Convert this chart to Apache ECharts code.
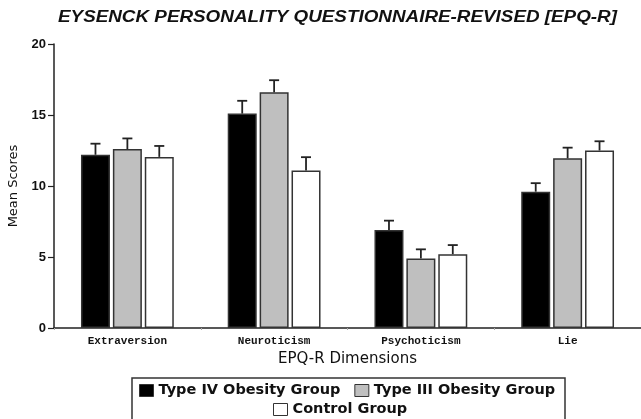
<!DOCTYPE html>
<html>
<head>
<meta charset="utf-8">
<script src="https://cdn.jsdelivr.net/npm/echarts@6/dist/echarts.min.js"></script>
<style>
  html, body { margin: 0; padding: 0; background: #fff; }
  #chart { width: 641px; height: 419px; }
</style>
</head>
<body>
<div id="chart"></div>
<script>
// EPQ-R dimension scores by group (means and standard errors)
const dimensions = ['Extraversion', 'Neuroticism', 'Psychoticism', 'Lie'];
const groupNames = ['Type IV Obesity Group', 'Type III Obesity Group', 'Control Group'];
const typeIVMeans = [12.2, 15.1, 6.9, 9.6];
const typeIIIMeans = [12.6, 16.6, 4.9, 11.95];
const controlMeans = [12.05, 11.1, 5.2, 12.5];
const typeIVErr = [0.78, 0.9, 0.66, 0.6];
const typeIIIErr = [0.75, 0.85, 0.64, 0.75];
const controlErr = [0.77, 0.93, 0.64, 0.65];
const yTicks = [0, 5, 10, 15, 20];

const titleText = 'EYSENCK PERSONALITY QUESTIONNAIRE-REVISED [EPQ-R]';

const means = [typeIVMeans, typeIIIMeans, controlMeans];
const errs = [typeIVErr, typeIIIErr, controlErr];
const fills = ['#000000', '#bfbfbf', '#ffffff'];
const edge = '#333333';

const BAR_W = 29;
const BAR_GAP = 0.1; // fraction of bar width between neighbouring bars

// stretch the title so it spans the full heading width
const titleFont = 'italic bold 16px "Liberation Sans", Arial, sans-serif';
const ctx = document.createElement('canvas').getContext('2d');
ctx.font = titleFont;
const titleScale = 559 / ctx.measureText(titleText).width;

const chart = echarts.init(document.getElementById('chart'), null, { renderer: 'canvas' });

const barSeries = groupNames.map((name, g) => ({
  name: name,
  type: 'bar',
  data: means[g],
  barWidth: BAR_W,
  barGap: (BAR_GAP * 100) + '%',
  itemStyle: { color: fills[g], borderColor: edge, borderWidth: 1.5 },
  z: 2
}));

const errSeries = groupNames.map((name, g) => ({
  type: 'custom',
  name: name + ' SE',
  data: dimensions.map((d, i) => [i, means[g][i], means[g][i] + errs[g][i]]),
  z: 3,
  silent: true,
  renderItem: function (params, api) {
    const offset = (g - 1) * BAR_W * (1 + BAR_GAP);
    const base = api.coord([api.value(0), api.value(1)]);
    const top = api.coord([api.value(0), api.value(2)]);
    const x = base[0] + offset;
    const half = 5;
    return {
      type: 'group',
      children: [
        { type: 'line', shape: { x1: x, y1: base[1], x2: x, y2: top[1] },
          style: { stroke: '#222', lineWidth: 1.8 } },
        { type: 'line', shape: { x1: x - half, y1: top[1], x2: x + half, y2: top[1] },
          style: { stroke: '#222', lineWidth: 1.8 } }
      ]
    };
  }
}));

const legendText = {
  fontFamily: '"DejaVu Sans", sans-serif',
  fontWeight: 'bold',
  fontSize: 14.5,
  color: '#111'
};

chart.setOption({
  animation: false,
  backgroundColor: '#fff',
  graphic: [
    {
      type: 'text',
      x: 337.5, y: 18,
      scaleX: titleScale,
      style: {
        text: titleText,
        font: titleFont,
        fill: '#111',
        align: 'center',
        verticalAlign: 'middle'
      }
    },
    {
      type: 'rect',
      shape: { x: 132, y: 378, width: 433, height: 60 },
      style: { fill: 'none', stroke: '#333', lineWidth: 1.5 },
      silent: true
    }
  ],
  grid: { left: 54, right: 0, top: 44, bottom: 91, containLabel: false, outerBoundsMode: 'none' },
  legend: [
    {
      data: groupNames.slice(0, 2),
      left: 139, top: 383,
      orient: 'horizontal',
      itemWidth: 14, itemHeight: 12, itemGap: 14,
      padding: 0,
      icon: 'rect',
      itemStyle: { borderColor: edge, borderWidth: 1 },
      textStyle: legendText,
      selectedMode: false
    },
    {
      data: groupNames.slice(2),
      left: 273, top: 402,
      itemWidth: 14, itemHeight: 12,
      padding: 0,
      icon: 'rect',
      itemStyle: { borderColor: edge, borderWidth: 1 },
      textStyle: legendText,
      selectedMode: false
    }
  ],
  xAxis: {
    type: 'category',
    data: dimensions,
    name: 'EPQ-R Dimensions',
    nameLocation: 'middle',
    nameGap: 23,
    nameTextStyle: { fontFamily: '"DejaVu Sans", sans-serif', fontSize: 15, color: '#111' },
    axisLine: { lineStyle: { color: '#222', width: 1.5 } },
    axisTick: { show: true, length: 2, lineStyle: { color: '#aaa' } },
    axisLabel: {
      margin: 8,
      fontFamily: '"Liberation Mono", "DejaVu Sans Mono", monospace',
      fontWeight: 'bold',
      fontSize: 11,
      color: '#111'
    }
  },
  yAxis: {
    type: 'value',
    min: 0, max: 20, interval: 5,
    name: 'Mean Scores',
    nameLocation: 'middle',
    nameGap: 34,
    nameTextStyle: { fontFamily: '"DejaVu Sans", sans-serif', fontSize: 13, color: '#111' },
    splitLine: { show: false },
    axisLine: { show: true, lineStyle: { color: '#222', width: 1.5 } },
    axisTick: { show: true, length: 6, lineStyle: { color: '#222', width: 1.2 } },
    axisLabel: {
      margin: 8,
      fontFamily: '"Liberation Sans Narrow", "Liberation Sans", Arial, sans-serif',
      fontWeight: 'bold',
      fontSize: 13,
      color: '#111',
      formatter: function (v) { return yTicks.indexOf(v) >= 0 ? String(v) : ''; }
    }
  },
  series: barSeries.concat(errSeries)
});
</script>
</body>
</html>
